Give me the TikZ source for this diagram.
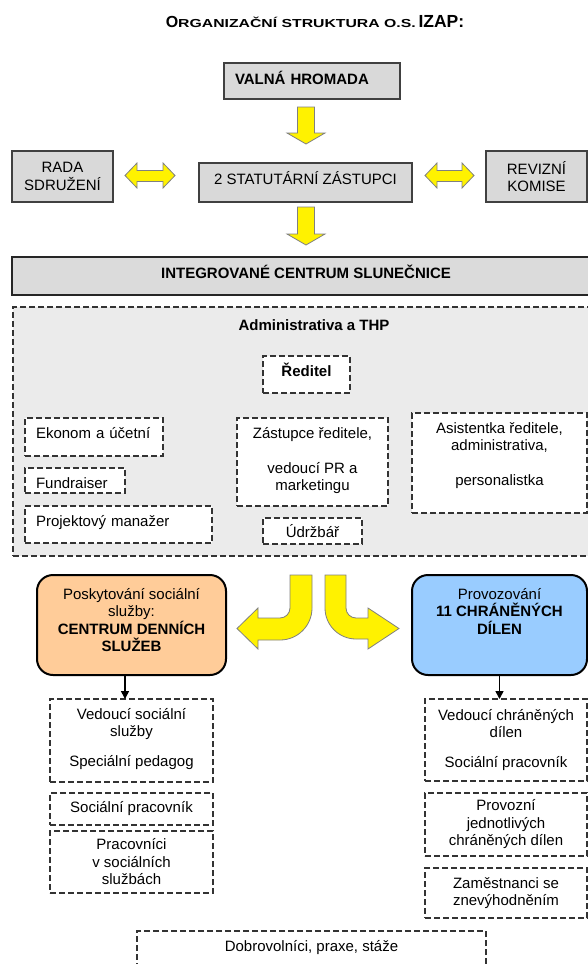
\documentclass[tikz,border=0pt]{standalone}
\usepackage{fontspec}
\setmainfont{Liberation Sans}
\usepackage{tikz}
\usetikzlibrary{arrows.meta}

\definecolor{cdsfill}{HTML}{FFCC99}
\definecolor{chdfill}{HTML}{99CCFF}

\begin{document}
\begin{tikzpicture}[
        x=1pt, y=-1pt,
        >={Stealth[length=8pt, width=8pt, inset=0pt]},
        font=\fontsize{15}{17.5}\selectfont,
        bf/.style={font=\fontsize{15}{17.5}\selectfont\bfseries},
        gbox/.style={draw=black!75, fill=black!15, line width=1.3pt, inner sep=0pt, outer sep=0pt, anchor=north west, align=center},
        dbox/.style={draw=black!80, fill=white, line width=1.1pt, dash pattern=on 6pt off 3pt, inner sep=0pt, outer sep=0pt, anchor=north west, align=center},
        lbox/.style={dbox, align=left, inner xsep=11pt},
        rbox/.style={draw=black, line width=2pt, rounded corners=16pt, inner sep=0pt, outer sep=0pt, anchor=north west, align=center},
        yarrow/.style={fill=yellow, draw=black!50, line width=0.8pt},
        link/.style={->, line width=1.6pt}
    ]
        \useasboundingbox (0,0) rectangle (588,964);
        \fill[white] (0,0) rectangle (588,964);

        \node[anchor=base, font=\bfseries] (title) at (315,27)
            {{\fontsize{16}{18}\selectfont O}\scalebox{1.36}[1]{\fontsize{11.6}{14}\selectfont RGANIZAČNÍ STRUKTURA O.S.} {\fontsize{17.5}{20}\selectfont IZAP:}};

        \node[gbox, bf, align=left, inner xsep=11pt, text width=154pt, text height=21pt, text depth=15pt] (valna) at (224,63) {VALNÁ HROMADA};
        \node[gbox, minimum width=101pt, minimum height=51pt] (rada) at (12,151) {RADA\\SDRUŽENÍ};
        \node[gbox, minimum width=213pt, text height=21pt, text depth=18pt] (stat) at (199,163) {2 STATUTÁRNÍ ZÁSTUPCI};
        \node[gbox, minimum width=101pt, minimum height=51pt] (revize) at (486,151) {REVIZNÍ\\KOMISE};

        \fill[yarrow] (297.5,107) -- (314.5,107) -- (314.5,133) -- (325,133) -- (306,144) -- (287,133) -- (297.5,133) -- cycle;
        \fill[yarrow] (125,175.5) -- (137,163) -- (137,170.5) -- (163,170.5) -- (163,163) -- (175,175.5) -- (163,188) -- (163,181.5) -- (137,181.5) -- (137,188) -- cycle;
        \fill[yarrow] (425,175.5) -- (437,163) -- (437,170.5) -- (462,170.5) -- (462,163) -- (474,175.5) -- (462,188) -- (462,181.5) -- (437,181.5) -- (437,188) -- cycle;
        \fill[yarrow] (297.5,207) -- (314.5,207) -- (314.5,234) -- (325,234) -- (306,245) -- (287,234) -- (297.5,234) -- cycle;

        \node[gbox, bf, draw=black!85, line width=2.5pt, fill=black!14, minimum width=588pt, text height=21pt, text depth=17pt] (icentrum) at (12,257) {INTEGROVANÉ CENTRUM SLUNEČNICE};

        \node[dbox, bf, fill=black!8, minimum width=602pt, text height=23pt, text depth=226pt] (admin) at (13,307) {Administrativa a THP};
        \node[dbox, bf, minimum width=87pt, text height=20pt, text depth=17pt] (reditel) at (263,356) {Ředitel};
        \node[lbox, text width=116pt, text height=20pt, text depth=18pt] (ekonom) at (25,418) {Ekonom a účetní};
        \node[lbox, text width=78pt, text height=20pt, text depth=5pt] (fundr) at (25,468) {Fundraiser};
        \node[lbox, text width=165pt, text height=20pt, text depth=17pt] (projekt) at (25,506) {Projektový manažer};
        \node[dbox, minimum width=151pt, text height=72.5pt, text depth=15.5pt] (zastupce) at (237,418) {Zástupce ředitele,\\[17.5pt]vedoucí PR a\\marketingu};
        \node[dbox, minimum width=99pt, minimum height=26pt] (udrzbar) at (263,518) {Údržbář};
        \node[dbox, minimum width=175pt, text height=72.5pt, text depth=27.5pt] (asist) at (412,413) {Asistentka ředitele,\\administrativa,\\[17.5pt]personalistka};

        \fill[yarrow] (290,575) -- (312,575) -- (312,608) .. controls (312,625.7) and (297.7,640) .. (280,640) -- (258,640) -- (258,649) -- (237,628.5) -- (258,608) -- (258,618) -- (280,618) .. controls (285.5,618) and (290,613.5) .. (290,608) -- cycle;
        \fill[yarrow] (325,575) -- (346,575) -- (346,608) .. controls (346,613.5) and (350.5,618) .. (356,618) -- (368,618) -- (368,608) -- (399,628.5) -- (368,649) -- (368,639) -- (356,639) .. controls (338.9,639) and (325,625.1) .. (325,608) -- cycle;

        \node[rbox, fill=cdsfill, minimum width=189pt, text height=76.5pt, text depth=23.5pt] (cds) at (37,575) {Poskytování sociální\\služby:\\\textbf{CENTRUM DENNÍCH}\\\textbf{SLUŽEB}};
        \node[rbox, fill=chdfill, minimum width=175pt, text height=59pt, text depth=41pt] (chd) at (412,575) {Provozování\\\textbf{11 CHRÁNĚNÝCH}\\\textbf{DÍLEN}};

        \node[dbox, minimum width=163pt, text height=67.5pt, text depth=15.5pt] (vss) at (50,699) {Vedoucí sociální\\služby\\[12.5pt]Speciální pedagog};
        \node[dbox, minimum width=163pt, minimum height=32pt] (socprac) at (50,793) {Sociální pracovník};
        \node[dbox, minimum width=163pt, minimum height=62pt] (pracss) at (50,831) {Pracovníci\\v sociálních\\službách};

        \node[dbox, minimum width=162pt, text height=68.5pt, text depth=13.5pt] (vch) at (425,699) {Vedoucí chráněných\\dílen\\[12.5pt]Sociální pracovník};
        \node[dbox, minimum width=162pt, minimum height=63pt] (provoz) at (425,793) {Provozní\\jednotlivých\\chráněných dílen};
        \node[dbox, minimum width=162pt, minimum height=50pt] (zamest) at (425,868) {Zaměstnanci se\\znevýhodněním};

        \node[dbox, minimum width=349pt, text height=20pt, text depth=60pt] (dobro) at (137,931) {Dobrovolníci, praxe, stáže};

        \draw[link] ([xshift=-6.5pt]cds.south) -- ([xshift=-6.5pt]cds.south |- vss.north);
        \draw[link] (chd.south) -- (chd.south |- vch.north);
    \end{tikzpicture}
\end{document}
